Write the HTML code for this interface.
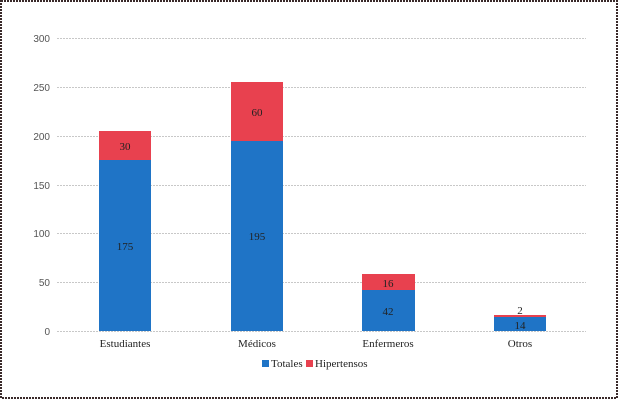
<!DOCTYPE html><html><head><style>body{margin:0;background:#fff}svg{display:block}text{font-family:"Liberation Serif",serif;font-size:11px;fill:#222}</style></head><body>
<svg width="618" height="401" xmlns="http://www.w3.org/2000/svg">
<rect x="1" y="1" width="616" height="397" fill="#fff" stroke="#3a2a2a" stroke-width="2" stroke-dasharray="2,1"/>
<g stroke="#c8c8c8" stroke-dasharray="2,1" stroke-width="1">
<line x1="57" y1="38.5" x2="586" y2="38.5"/><line x1="57" y1="87.5" x2="586" y2="87.5"/><line x1="57" y1="136.5" x2="586" y2="136.5"/><line x1="57" y1="185.5" x2="586" y2="185.5"/><line x1="57" y1="233.5" x2="586" y2="233.5"/><line x1="57" y1="282.5" x2="586" y2="282.5"/><line x1="57" y1="331.5" x2="586" y2="331.5"/>
</g>
<g text-anchor="end" style="font-family:'Liberation Sans',sans-serif">
<text x="50" y="42" style="font-family:'Liberation Sans',sans-serif;font-size:10px;fill:#555">300</text>
<text x="50" y="91" style="font-family:'Liberation Sans',sans-serif;font-size:10px;fill:#555">250</text>
<text x="50" y="140" style="font-family:'Liberation Sans',sans-serif;font-size:10px;fill:#555">200</text>
<text x="50" y="189" style="font-family:'Liberation Sans',sans-serif;font-size:10px;fill:#555">150</text>
<text x="50" y="237" style="font-family:'Liberation Sans',sans-serif;font-size:10px;fill:#555">100</text>
<text x="50" y="286" style="font-family:'Liberation Sans',sans-serif;font-size:10px;fill:#555">50</text>
<text x="50" y="335" style="font-family:'Liberation Sans',sans-serif;font-size:10px;fill:#555">0</text>
</g>
<g>
<rect x="99" y="131" width="52" height="29" fill="#e8414f"/><rect x="99" y="160" width="52" height="171" fill="#1f74c6"/>
<rect x="231" y="82" width="52" height="59" fill="#e8414f"/><rect x="231" y="141" width="52" height="190" fill="#1f74c6"/>
<rect x="362" y="274" width="53" height="16" fill="#e8414f"/><rect x="362" y="290" width="53" height="41" fill="#1f74c6"/>
<rect x="494" y="315" width="52" height="2" fill="#e8414f"/><rect x="494" y="317" width="52" height="14" fill="#1f74c6"/>
</g>
<g text-anchor="middle">
<text x="125" y="150">30</text><text x="125" y="250">175</text>
<text x="257" y="116">60</text><text x="257" y="240">195</text>
<text x="388" y="287">16</text><text x="388" y="315">42</text>
<text x="520" y="314">2</text><text x="520" y="329">14</text>
<text x="125" y="347">Estudiantes</text><text x="257" y="347">Médicos</text><text x="388" y="347">Enfermeros</text><text x="520" y="347">Otros</text>
</g>
<rect x="262" y="360" width="7" height="7" fill="#1f74c6"/><text x="271" y="367">Totales</text>
<rect x="306" y="360" width="7" height="7" fill="#e8414f"/><text x="315" y="367">Hipertensos</text>
</svg></body></html>
